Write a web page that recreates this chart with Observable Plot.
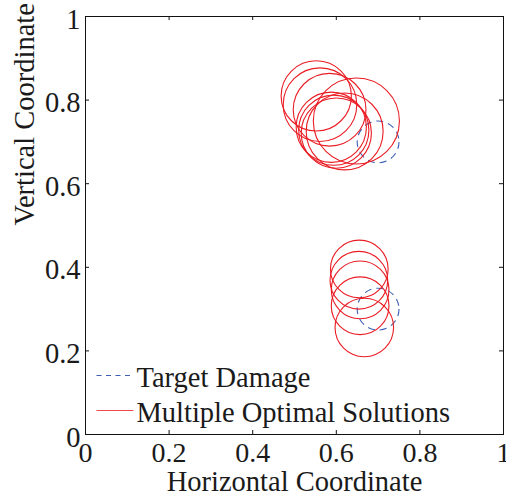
<!DOCTYPE html>
<html>
<head>
<meta charset="utf-8">
<script src="https://cdn.jsdelivr.net/npm/d3@7"></script>
<script src="https://cdn.jsdelivr.net/npm/@observablehq/plot@0.6"></script>
<style>
  body { margin: 0; background: #fff; }
  #chart { position: relative; width: 506px; height: 500px; font-family: "Liberation Serif", "Times New Roman", serif; }
  #legend { position: absolute; left: 0; top: 0; pointer-events: none; }
</style>
</head>
<body>
<div id="chart"></div>
<script>
// Target damage locations (centre x, centre y, radius) in normalized coordinates
const targetX = [0.70, 0.70];
const targetY = [0.70, 0.30];
const targetR = [0.05, 0.05];

// Identified damage circles from the multiple optimal solutions
const solutionX = [0.552, 0.561, 0.584, 0.588, 0.594, 0.600, 0.620, 0.648,
                   0.655, 0.654, 0.657, 0.657, 0.667];
const solutionY = [0.810, 0.789, 0.777, 0.735, 0.728, 0.721, 0.725, 0.750,
                   0.396, 0.369, 0.346, 0.308, 0.256];
const solutionR = [0.084, 0.088, 0.087, 0.084, 0.084, 0.084, 0.092, 0.103,
                   0.069, 0.069, 0.069, 0.069, 0.070];

const tickValues = [0, 0.2, 0.4, 0.6, 0.8, 1];
const xLabel = "Horizontal Coordinate";
const yLabel = "Vertical Coordinate";
const legendLabels = ["Target Damage", "Multiple Optimal Solutions"];

const blue = "#3d5fb6";
const red = "#ea1c24";

const targets = targetX.map((x, i) => ({x, y: targetY[i], r: targetR[i]}));
const solutions = solutionX.map((x, i) => ({x, y: solutionY[i], r: solutionR[i]}));

const W = 506, H = 500;
const mL = 85, mR = 3, mT = 16, mB = 66;
const plotW = W - mL - mR;
const plotH = H - mT - mB;
const tick = 4;

const chart = Plot.plot({
  width: W,
  height: H,
  marginLeft: mL,
  marginRight: mR,
  marginTop: mT,
  marginBottom: mB,
  style: {fontFamily: "'Liberation Serif', 'Times New Roman', serif", fontSize: "28px", color: "#1a1a1a", background: "white", overflow: "visible"},
  x: {domain: [0, 1], axis: null},
  y: {domain: [0, 1], axis: null},
  // radius scale in data units, so circles share the axes' unit length
  r: {type: "linear", domain: [0, 1], range: [0, plotW]},
  marks: [
    Plot.dot(targets, {x: "x", y: "y", r: "r", fill: "none", stroke: blue, strokeWidth: 1.1, strokeDasharray: "7,5"}),
    Plot.dot(solutions, {x: "x", y: "y", r: "r", fill: "none", stroke: red, strokeWidth: 1.1}),
    Plot.frame({stroke: "#111", strokeWidth: 1}),
    // inward ticks on all four sides
    Plot.tickX(tickValues, {x: d => d, insetTop: plotH - tick, stroke: "#111"}),
    Plot.tickX(tickValues, {x: d => d, insetBottom: plotH - tick, stroke: "#111"}),
    Plot.tickY(tickValues, {y: d => d, insetRight: plotW - tick, stroke: "#111"}),
    Plot.tickY(tickValues, {y: d => d, insetLeft: plotW - tick, stroke: "#111"}),
    Plot.axisX(tickValues, {tickSize: 0, tickPadding: 8, fontSize: 28, label: null, tickFormat: d => String(d)}),
    Plot.axisY(tickValues, {tickSize: 0, tickPadding: 5, fontSize: 28.5, dy: 3, label: null, tickFormat: d => String(d)}),
    Plot.text([xLabel], {frameAnchor: "bottom", dy: 56, fontSize: 28.5, text: d => d}),
    Plot.text([yLabel], {frameAnchor: "left", dx: -61, rotate: -90, fontSize: 28.5, text: d => d})
  ]
});

const container = document.getElementById("chart");
container.appendChild(chart);

// Legend (no box) in the lower-left corner of the axes
const ns = "http://www.w3.org/2000/svg";
const legend = document.createElementNS(ns, "svg");
legend.setAttribute("id", "legend");
legend.setAttribute("width", W);
legend.setAttribute("height", H);
const legendStyles = [
  {color: blue, dash: "5,4.5"},
  {color: "#ef4a4f", dash: null}
];
legendLabels.forEach((label, i) => {
  const yLine = 375 + i * 35;
  const line = document.createElementNS(ns, "line");
  line.setAttribute("x1", 96.5);
  line.setAttribute("x2", 133.5);
  line.setAttribute("y1", yLine + 0.5);
  line.setAttribute("y2", yLine + 0.5);
  line.setAttribute("stroke", legendStyles[i].color);
  line.setAttribute("stroke-width", 1.1);
  if (legendStyles[i].dash) line.setAttribute("stroke-dasharray", legendStyles[i].dash);
  legend.appendChild(line);
  const t = document.createElementNS(ns, "text");
  t.setAttribute("x", 136.5);
  t.setAttribute("y", yLine + 12);
  t.setAttribute("font-size", 28.5);
  t.setAttribute("font-family", "'Liberation Serif', 'Times New Roman', serif");
  t.setAttribute("fill", "#1a1a1a");
  t.textContent = label;
  legend.appendChild(t);
});
container.appendChild(legend);
</script>
</body>
</html>
